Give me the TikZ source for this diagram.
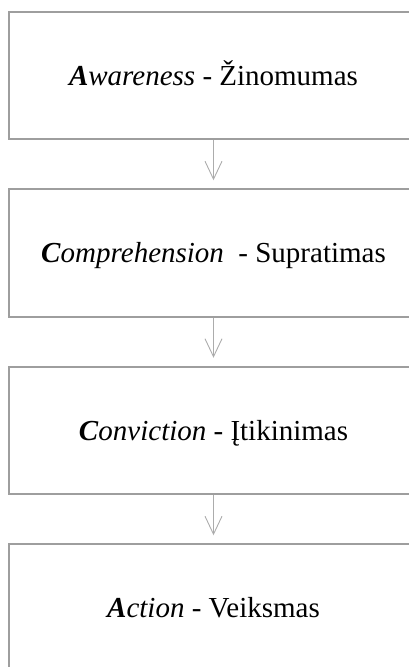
\documentclass[tikz,border=0pt]{standalone}
\usepackage{fontspec}
\setmainfont{Liberation Serif}
\usetikzlibrary{arrows.meta}
\definecolor{boxline}{RGB}{158,158,158}
\definecolor{arrowline}{RGB}{172,172,172}
\begin{document}
\begin{tikzpicture}[x=1pt,y=-1pt,
  stage/.style={draw=boxline, line width=2pt, fill=white, inner sep=0pt,
    minimum width=409pt, minimum height=127.5pt,
    text height=19pt, text depth=0pt,
    font=\fontsize{29}{34}\selectfont},
  flow/.style={draw=arrowline, line width=0.9pt,
    -{Straight Barb[length=18pt,width=17pt,line width=0.9pt]}, shorten >=8pt}]
  \clip (0,0) rectangle (409,667);
  \node[stage] (aware) at (213.5,75.5)
    {\textbf{\textit{A}}\textit{wareness} - Žinomumas};
  \node[stage] (compr) at (213.5,253)
    {\textbf{\textit{C}}\textit{omprehension}\ \ - Supratimas};
  \node[stage] (convi) at (213.5,430.5)
    {\textbf{\textit{C}}\textit{onviction} - Įtikinimas};
  \node[stage] (actio) at (213.5,608)
    {\textbf{\textit{A}}\textit{ction} - Veiksmas};
  \draw[flow] (aware.south) -- (compr.north);
  \draw[flow] (compr.south) -- (convi.north);
  \draw[flow] (convi.south) -- (actio.north);
\end{tikzpicture}
\end{document}
